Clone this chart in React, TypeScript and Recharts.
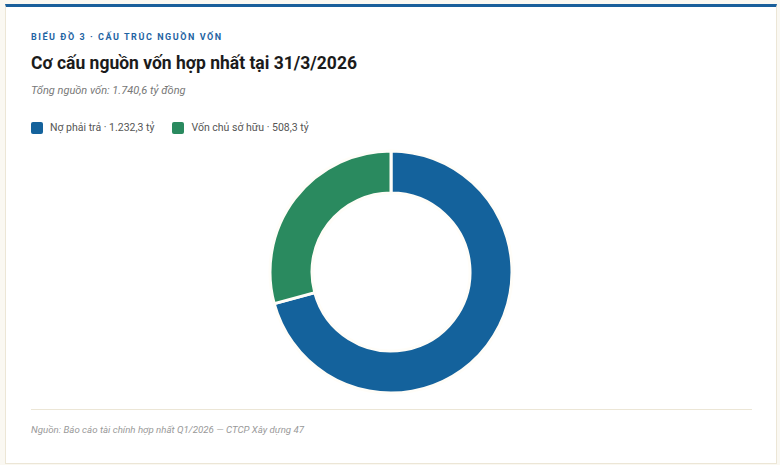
import React from "react";
import { PieChart, Pie, Cell, Legend } from "recharts";

const categories = ["Nợ phải trả", "Vốn chủ sở hữu"];
const values = [1232.3, 508.3];
const valueLabels = ["1.232,3 tỷ", "508,3 tỷ"];
const colors = ["#14629C", "#2A8A5F"];

const data = categories.map((name, i) => ({ name, value: values[i], label: valueLabels[i] }));

const FONT = "Roboto, 'Noto Sans', sans-serif";

const renderLegend = () => (
  <div style={{ display: "flex", alignItems: "center", fontFamily: FONT, fontSize: 10.5, color: "#555" }}>
    {data.map((d, i) => (
      <div key={d.name} style={{ display: "flex", alignItems: "center", marginRight: 18 }}>
        <span
          style={{
            display: "inline-block",
            width: 12,
            height: 12,
            borderRadius: 2,
            background: colors[i],
            marginRight: 7,
          }}
        />
        <span>{d.name} · {d.label}</span>
      </div>
    ))}
  </div>
);

export default function App() {
  return (
    <div
      style={{
        position: "fixed",
        left: 0,
        top: 0,
        width: 780,
        height: 465,
        background: "#FAF8F2",
        fontFamily: FONT,
        overflow: "hidden",
      }}
    >
      <div
        style={{
          position: "absolute",
          left: 5,
          top: 4,
          width: 770,
          height: 456,
          background: "#FFFFFF",
          borderTop: "3px solid #1A5F9B",
          borderLeft: "1px solid #ECE6D6",
          borderRight: "1px solid #ECE6D6",
          borderBottom: "1px solid #ECE6D6",
        }}
      />
      <div
        style={{
          position: "absolute",
          left: 31,
          top: 32,
          fontSize: 9,
          fontWeight: 700,
          letterSpacing: 1.55,
          color: "#1F64A3",
        }}
      >
        BIỂU ĐỒ 3 · CẤU TRÚC NGUỒN VỐN
      </div>
      <div
        style={{
          position: "absolute",
          left: 31,
          top: 53,
          fontSize: 17.5,
          fontWeight: 700,
          color: "#1B1B1B",
        }}
      >
        Cơ cấu nguồn vốn hợp nhất tại 31/3/2026
      </div>
      <div
        style={{
          position: "absolute",
          left: 31,
          top: 84,
          fontSize: 11,
          fontStyle: "italic",
          color: "#777",
        }}
      >
        Tổng nguồn vốn: 1.740,6 tỷ đồng
      </div>
      <div style={{ position: "absolute", left: 0, top: 0 }}>
        <PieChart width={780} height={465} margin={{ top: 0, right: 0, bottom: 0, left: 0 }}>
          <Legend
            content={renderLegend}
            wrapperStyle={{ position: "absolute", left: 31, top: 121, width: 600 }}
          />
          <Pie
            data={data}
            dataKey="value"
            nameKey="name"
            cx={391}
            cy={272}
            innerRadius={79}
            outerRadius={121}
            startAngle={90}
            endAngle={-270}
            stroke="#FFFDF8"
            strokeWidth={3}
            isAnimationActive={false}
          >
            {data.map((d, i) => (
              <Cell key={d.name} fill={colors[i]} />
            ))}
          </Pie>
        </PieChart>
      </div>
      <div
        style={{
          position: "absolute",
          left: 31,
          top: 409,
          width: 721,
          height: 1,
          background: "#ECE6D6",
        }}
      />
      <div
        style={{
          position: "absolute",
          left: 31,
          top: 424,
          fontSize: 9.7,
          fontStyle: "italic",
          color: "#999",
        }}
      >
        Nguồn: Báo cáo tài chính hợp nhất Q1/2026 — CTCP Xây dựng 47
      </div>
    </div>
  );
}
